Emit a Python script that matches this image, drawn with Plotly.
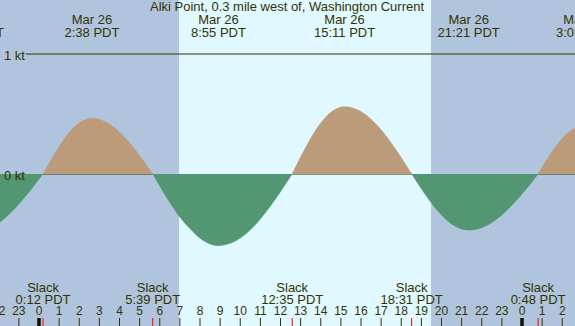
import plotly.graph_objects as go

# ---------------- data (hours from midnight, Mar 26, PDT) ----------------
times = [-2.5, -2.0, -1.5, -1.0, -0.5, 0.0,
         0.2,
         0.5, 1.0, 1.5, 2.0, 2.5, 2.63, 3.0, 3.5, 4.0, 4.5, 5.0, 5.5,
         5.65,
         6.0, 6.5, 7.0, 7.5, 8.0, 8.5, 8.92, 9.5, 10.0, 10.5, 11.0, 11.5, 12.0,
         12.58,
         13.0, 13.5, 14.0, 14.5, 15.0, 15.18, 15.5, 16.0, 16.5, 17.0, 17.5, 18.0,
         18.52,
         19.0, 19.5, 20.0, 20.5, 21.0, 21.35, 21.5, 22.0, 22.5, 23.0, 23.5, 24.0, 24.5,
         24.8,
         25.0, 25.5, 26.0, 26.5, 27.0]
speeds = [-0.457, -0.408, -0.338, -0.251, -0.151, -0.044,
          0,
          0.089, 0.229, 0.346, 0.426, 0.462, 0.464, 0.455, 0.417, 0.351, 0.261, 0.154, 0.036,
          0,
          -0.100, -0.237, -0.360, -0.455, -0.535, -0.583, -0.597, -0.578, -0.534, -0.465, -0.374, -0.267, -0.147,
          0,
          0.141, 0.296, 0.424, 0.514, 0.558, 0.561, 0.555, 0.520, 0.456, 0.368, 0.259, 0.136,
          0,
          -0.123, -0.242, -0.342, -0.416, -0.458, -0.467, -0.466, -0.447, -0.404, -0.341, -0.260, -0.166, -0.064,
          0,
          0.056, 0.188, 0.297, 0.371, 0.400]

max_times = [-3.2833, 2.6333, 8.9167, 15.1833, 21.35, 27.05]
max_dates = ["Mar 25", "Mar 26", "Mar 26", "Mar 26", "Mar 26", "Mar 27"]
max_labels = ["20:43 PDT", "2:38 PDT", "8:55 PDT", "15:11 PDT", "21:21 PDT", "3:03 PDT"]

slack_times = [0.2, 5.65, 12.5833, 18.5167, 24.8]
slack_labels = ["0:12 PDT", "5:39 PDT", "12:35 PDT", "18:31 PDT", "0:48 PDT"]

sunrise, sunset = 6.957, 19.48
hours = list(range(-2, 27))
hour_labels = [str(h % 24) for h in hours]

title = "Alki Point, 0.3 mile west of, Washington Current"

# ---------------- styling ----------------
W, H = 575, 326
NIGHT = "#B0C4DE"
DAY = "#E0F8FF"
FLOOD = "#BC9B7A"
EBB = "#529672"
INK = "#333300"
FONT = "Liberation Sans, Arial, sans-serif"

X0, X1 = -39 / 20.125, (W - 39) / 20.125
Y0, Y1 = -(H - 174) / 120, 174 / 120


def py(p):  # pixel row -> data y
    return (174 - p) / 120


fig = go.Figure()

# split into lobes between slack points
segments, cur = [], []
for t, v in zip(times, speeds):
    cur.append((t, v))
    if v == 0 and len(cur) > 1:
        segments.append(cur)
        cur = [(t, v)]
if len(cur) > 1:
    segments.append(cur)

# zero line under flood lobes
for seg in segments:
    if sum(v for _, v in seg) > 0:
        fig.add_trace(go.Scatter(x=[seg[0][0], seg[-1][0]], y=[0, 0], mode="lines",
                                 line=dict(color=INK, width=1.2), hoverinfo="skip"))

for seg in segments:
    xs = [t for t, _ in seg]
    ys = [v for _, v in seg]
    col = FLOOD if sum(ys) > 0 else EBB
    fig.add_trace(go.Scatter(x=xs, y=ys, mode="lines", fill="tozeroy", fillcolor=col,
                             line=dict(color=col, width=0.5, shape="spline"),
                             hoverinfo="skip"))

# hour ticks
tx, ty = [], []
mx, my = [], []
for h in hours:
    if h % 24 == 0:
        mx += [h, h, None]
        my += [py(318), py(330), None]
    else:
        tx += [h, h, None]
        ty += [py(318), py(330), None]
fig.add_trace(go.Scatter(x=tx, y=ty, mode="lines", line=dict(color=INK, width=1), hoverinfo="skip"))
fig.add_trace(go.Scatter(x=mx, y=my, mode="lines", line=dict(color="#111100", width=3.5), hoverinfo="skip"))
rx, ry = [], []
for s in slack_times:
    rx += [s, s, None]
    ry += [py(318), py(330), None]
fig.add_trace(go.Scatter(x=rx, y=ry, mode="lines", line=dict(color="#FF0000", width=1), hoverinfo="skip"))

txtfont = dict(family=FONT, size=13, color=INK)
fig.add_trace(go.Scatter(x=hours, y=[py(312)] * len(hours), mode="text", text=hour_labels,
                         textposition="middle center", cliponaxis=True,
                         textfont=dict(family=FONT, size=12, color=INK), hoverinfo="skip"))
fig.add_trace(go.Scatter(x=max_times, y=[py(21)] * len(max_times), mode="text", text=max_dates,
                         textposition="middle center", cliponaxis=True, textfont=txtfont, hoverinfo="skip"))
fig.add_trace(go.Scatter(x=max_times, y=[py(33.5)] * len(max_times), mode="text", text=max_labels,
                         textposition="middle center", cliponaxis=True, textfont=txtfont, hoverinfo="skip"))
fig.add_trace(go.Scatter(x=slack_times, y=[py(289)] * len(slack_times), mode="text",
                         text=["Slack"] * len(slack_times),
                         textposition="middle center", cliponaxis=True, textfont=txtfont, hoverinfo="skip"))
fig.add_trace(go.Scatter(x=slack_times, y=[py(300.5)] * len(slack_times), mode="text", text=slack_labels,
                         textposition="middle center", cliponaxis=True, textfont=txtfont, hoverinfo="skip"))

shapes = [
    dict(type="rect", xref="x", yref="paper", x0=sunrise, x1=sunset, y0=0, y1=1,
         fillcolor=DAY, line=dict(width=0), layer="below"),
    dict(type="line", xref="paper", yref="y", x0=26 / W, x1=1, y0=1, y1=1,
         line=dict(color=INK, width=1.2), layer="below"),
]

annotations = [
    dict(text=title, xref="paper", yref="paper", x=287 / W, y=1 - 7 / H, xanchor="center",
         yanchor="middle", showarrow=False, font=dict(family=FONT, size=13, color=INK)),
    dict(text="1 kt", xref="paper", yref="y", x=2 / W, y=py(55), xanchor="left", yanchor="middle",
         showarrow=False, font=txtfont),
    dict(text="0 kt", xref="paper", yref="y", x=2 / W, y=py(175), xanchor="left", yanchor="middle",
         showarrow=False, font=txtfont),
]

fig.update_layout(
    width=W, height=H, margin=dict(l=0, r=0, t=0, b=0, pad=0),
    paper_bgcolor=NIGHT, plot_bgcolor=NIGHT, showlegend=False,
    xaxis=dict(range=[X0, X1], visible=False, fixedrange=True),
    yaxis=dict(range=[Y0, Y1], visible=False, fixedrange=True),
    shapes=shapes, annotations=annotations,
)

fig.write_html("out.html", config={"displayModeBar": False},
               post_script="document.body.style.margin='0';document.body.style.overflow='hidden';")
